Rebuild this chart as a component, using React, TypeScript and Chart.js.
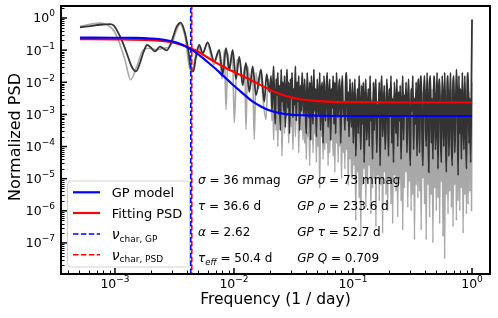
import React, { useEffect, useRef } from "react";
import { Chart, registerables } from "chart.js";

Chart.register(...registerables);

// ---------- axis ranges & ticks ----------
const X_MIN = 3.52e-4;
const X_MAX = 1.416;
const Y_MIN = 1.08e-8;
const Y_MAX = 2.36;
const X_TICK_EXPONENTS = [-3, -2, -1, 0];
const Y_TICK_EXPONENTS = [0, -1, -2, -3, -4, -5, -6, -7];
const X_TITLE = "Frequency (1 / day)";
const Y_TITLE = "Normalized PSD";

// ---------- model curves (log10 PSD) ----------
const GP_FREQ = [5.08e-4, 1.0e-3, 1.5e-3, 2.0e-3, 2.5e-3, 3.0e-3, 3.5e-3, 4.0e-3, 4.5e-3, 5.0e-3, 5.5e-3, 6.0e-3, 7.0e-3, 8.0e-3, 9.0e-3, 1.0e-2, 1.2e-2, 1.4e-2, 1.7e-2, 2.0e-2, 2.5e-2, 3.0e-2, 4.0e-2, 6.0e-2, 1.0e-1, 1.0];
const GP_LOG_PSD = [-0.61, -0.615, -0.62, -0.64, -0.67, -0.73, -0.8, -0.9, -1.01, -1.13, -1.25, -1.37, -1.58, -1.78, -1.95, -2.11, -2.36, -2.57, -2.76, -2.88, -2.97, -3.01, -3.03, -3.045, -3.05, -3.05];

const FIT_FREQ = [5.08e-4, 1.0e-3, 2.0e-3, 2.7e-3, 3.3e-3, 4.0e-3, 4.4e-3, 5.0e-3, 6.0e-3, 7.0e-3, 8.0e-3, 1.0e-2, 1.3e-2, 1.6e-2, 2.0e-2, 2.5e-2, 3.0e-2, 3.5e-2, 4.8e-2, 7.0e-2, 1.0e-1, 0.3, 1.0];
const FIT_LOG_PSD = [-0.66, -0.665, -0.69, -0.73, -0.79, -0.89, -0.96, -1.05, -1.23, -1.38, -1.5, -1.68, -1.88, -2.05, -2.23, -2.38, -2.47, -2.52, -2.58, -2.61, -2.62, -2.63, -2.63];

const NU_CHAR_GP = 4.33e-3;
const NU_CHAR_PSD = 4.42e-3;

// ---------- periodograms: low-frequency part [freq, log10 PSD] ----------
const DARK_LOW: [number, number][] = [
  [5.08e-4, -0.29], [6.2e-4, -0.25], [7.5e-4, -0.21], [9.1e-4, -0.19], [9.8e-4, -0.24],
  [1.033e-3, -0.37], [1.138e-3, -0.68], [1.254e-3, -1.09], [1.381e-3, -1.51], [1.501e-3, -1.66],
  [1.622e-3, -1.4], [1.74e-3, -1.05], [1.867e-3, -0.84], [2.0e-3, -0.92], [2.168e-3, -1.04],
  [2.388e-3, -0.89], [2.55e-3, -0.95], [2.72e-3, -1.01], [2.955e-3, -0.78], [3.3e-3, -0.27],
  [3.565e-3, -0.145], [3.875e-3, -0.47], [4.15e-3, -1.05], [4.33e-3, -1.56], [4.55e-3, -1.66],
  [4.8e-3, -1.2], [5.11e-3, -0.84], [5.46e-3, -1.09], [6.01e-3, -0.76], [6.83e-3, -1.35],
  [7.52e-3, -0.99], [8.04e-3, -1.75], [8.57e-3, -0.94], [9.13e-3, -1.6], [9.75e-3, -0.99],
  [1.039e-2, -1.9], [1.108e-2, -1.2], [1.183e-2, -2.1], [1.261e-2, -1.4], [1.345e-2, -2.3],
  [1.436e-2, -1.51], [1.531e-2, -2.4], [1.686e-2, -1.61], [1.797e-2, -2.6], [1.88e-2, -1.75],
  [1.979e-2, -2.3],
];

const LIGHT_LOW: [number, number][] = [
  [5.08e-4, -0.26], [7.48e-4, -0.16], [9.67e-4, -0.37], [1.066e-3, -0.68], [1.213e-3, -1.3],
  [1.355e-3, -1.92], [1.522e-3, -1.51], [1.729e-3, -0.99], [1.968e-3, -0.94], [2.241e-3, -0.99],
  [2.546e-3, -0.94], [2.9e-3, -0.89], [3.3e-3, -0.37], [3.517e-3, -0.19], [3.875e-3, -0.58],
  [4.21e-3, -1.51], [4.41e-3, -1.66], [5.0e-3, -0.9], [5.45e-3, -1.15], [5.95e-3, -0.8],
  [6.8e-3, -1.45], [7.45e-3, -1.05], [7.95e-3, -1.9], [8.3e-3, -1.0], [8.57e-3, -2.85],
  [8.9e-3, -1.1], [9.2e-3, -1.6], [9.7e-3, -1.05], [1.006e-2, -3.26], [1.06e-2, -1.3],
  [1.12e-2, -1.3], [1.18e-2, -2.0], [1.23e-2, -1.5], [1.261e-2, -3.47], [1.3e-2, -1.5],
  [1.38e-2, -2.1], [1.43e-2, -1.6], [1.481e-2, -3.78], [1.53e-2, -1.7], [1.6e-2, -2.2],
  [1.68e-2, -1.7], [1.75e-2, -2.5], [1.858e-2, -3.16], [1.93e-2, -1.9], [2.0e-2, -2.3],
];

// ---------- periodograms: dense high-frequency part (log10 PSD on a log-spaced grid) ----------
const DENSE_F_START = 0.0205;
const DENSE_F_END = 0.99;

const DARK_DENSE_LOG = [
  // 0.02 - 0.038
  -1.8, -2.9, -2.2, -1.5, -2.7, -3.3, -1.9, -2.4, -1.7, -3.0, -2.1, -3.5, -1.6, -2.6, -2.0, -2.9, -1.8, -3.4, -2.3, -1.6,
  -2.8, -2.0, -3.6, -1.9, -2.5, -1.7, -3.1, -2.2, -2.7, -1.5, -3.2, -2.0, -2.6, -1.8, -3.5, -2.1, -2.9, -1.7, -2.4, -3.0,
  // 0.038 - 0.096
  -1.9, -2.8, -3.6, -1.7, -2.5, -3.1, -2.0, -3.8, -1.8, -2.6, -3.3, -1.6, -2.9, -2.2, -3.7, -1.9, -2.7, -3.0, -1.7, -3.5,
  -2.3, -2.0, -3.9, -1.8, -2.6, -3.2, -2.1, -1.7, -3.4, -2.5, -1.9, -3.8, -2.2, -2.8, -1.8, -3.3, -2.0, -3.6, -1.7, -2.7,
  -3.1, -2.1, -1.9, -3.9, -2.4, -1.8, -3.0, -2.6, -3.5, -2.0, -1.7, -3.2, -2.3, -3.7, -1.9, -2.8, -3.4,
  // 0.096 - 0.35
  -2.0, -3.9, -2.6, -1.9, -4.3, -3.0, -2.2, -3.6, -1.8, -2.8, -4.1, -2.1, -3.3, -2.0, -4.5, -2.5, -1.9, -3.8, -2.9, -2.2,
  -4.0, -1.8, -3.2, -2.6, -4.4, -2.0, -3.5, -2.3, -1.9, -4.2, -2.7, -3.1, -2.0, -4.6, -2.4, -1.8, -3.7, -2.9, -2.1, -4.1,
  -3.3, -1.9, -2.6, -4.3, -2.2, -3.0, -1.8, -3.9, -2.5, -4.5, -2.0, -2.8, -3.6, -1.9, -4.0, -2.3, -3.2, -2.1, -4.4, -2.7,
  -1.8, -3.8, -2.4, -3.0, -2.0, -4.2, -2.6, -1.9, -3.5, -4.6, -2.2, -2.9, -1.8, -4.1, -2.5, -3.3, -2.0, -4.3, -2.3, -1.9,
  // 0.35 - 0.99
  -4.2, -2.1, -1.8, -3.6, -4.6, -2.4, -1.8, -3.1, -4.0, -1.7, -2.7, -4.8, -2.0, -1.8, -3.9, -2.5, -4.4, -1.8, -2.2, -4.1,
  -3.0, -1.7, -4.7, -2.3, -1.9, -3.5, -4.5, -1.8, -2.6, -4.0, -1.7, -3.3, -4.8, -2.1, -1.8, -4.3, -2.8, -1.7, -3.8, -4.6,
  -2.0, -1.8, -4.2, -3.1, -1.6, -2.4, -4.9, -1.8, -3.6, -2.2, -4.4, -1.7, -2.9, -4.1, -1.8, -3.4, -4.7, -2.0, -1.7, -3.9,
  -2.5, -4.5, -1.8,
];
const DARK_LAST: [number, number] = [1.0, -0.05];

const LIGHT_DENSE_LOG = [
  // 0.02 - 0.038
  -2.4, -3.2, -2.2, -3.8, -2.6, -2.3, -3.5, -2.1, -4.0, -2.5, -2.8, -3.3, -2.2, -4.3, -2.6, -2.4, -3.6, -2.3, -3.1, -2.7,
  -2.2, -3.9, -2.5, -2.4, -3.4, -2.1, -4.1, -2.6, -2.3, -3.7, -2.5, -3.0, -2.2, -4.2, -2.4, -2.7, -3.5, -2.3, -3.8, -2.5,
  // 0.038 - 0.096
  -3.9, -2.4, -4.4, -2.6, -3.7, -2.3, -4.6, -2.5, -3.8, -2.2, -4.2, -2.7, -3.6, -2.4, -4.5, -2.3, -4.0, -2.6, -5.3, -2.4,
  -3.7, -2.5, -4.4, -2.2, -4.1, -2.6, -3.9, -2.4, -4.6, -2.3, -4.2, -2.5, -3.8, -2.7, -4.3, -2.4, -4.8, -2.3, -3.9, -2.6,
  -4.5, -2.2, -4.0, -2.5, -5.0, -2.4, -4.2, -2.6, -4.7, -2.3, -4.1, -2.5, -5.2, -2.4, -4.4, -2.6, -4.9,
  // 0.096 - 0.35
  -5.0, -2.5, -4.6, -2.4, -6.3, -2.6, -4.8, -2.3, -5.6, -2.5, -6.8, -2.4, -5.2, -2.6, -4.7, -2.5, -5.9, -2.3, -5.1, -2.4,
  -4.6, -2.6, -6.1, -2.5, -5.3, -2.3, -5.0, -2.4, -6.5, -2.6, -4.9, -2.5, -5.7, -2.4, -5.2, -2.3, -6.7, -2.6, -4.8, -2.5,
  -5.5, -2.4, -6.0, -2.3, -5.1, -2.6, -5.8, -2.5, -6.4, -2.4, -4.9, -2.3, -5.4, -2.6, -6.2, -2.5, -5.0, -2.4, -5.7, -2.6,
  -6.6, -2.3, -5.3, -2.5, -4.8, -2.4, -5.9, -2.6, -5.1, -2.3, -6.0, -2.5, -5.5, -2.4, -6.9, -2.6, -5.2, -2.5, -5.6, -2.4,
  // 0.35 - 0.99
  -5.4, -2.4, -6.6, -2.3, -5.0, -2.5, -5.8, -2.2, -6.9, -2.4, -5.2, -2.3, -6.2, -2.5, -5.5, -2.2, -7.0, -2.4, -5.3, -2.3,
  -6.0, -2.5, -5.6, -2.2, -6.4, -2.4, -5.1, -2.3, -6.8, -2.5, -7.5, -2.2, -5.5, -2.4, -6.1, -2.3, -5.4, -2.5, -5.9, -2.2,
  -6.5, -2.4, -5.2, -2.3, -6.3, -2.5, -5.7, -2.2, -6.0, -2.4, -5.3, -2.3, -6.7, -2.5, -5.5, -2.2, -6.1, -2.4, -5.8, -2.3,
  -5.4, -2.5, -6.0,
];
const LIGHT_LAST: [number, number] = [1.0, -2.0];

// ---------- text ----------
type Seg = { t: string; it?: boolean; size?: number; dy?: number };
const STATS_LEFT: Seg[][] = [
  [{ t: "σ", it: true }, { t: " = 36" }, { t: " mmag" }],
  [{ t: "τ", it: true }, { t: " = 36.6" }, { t: " d" }],
  [{ t: "α", it: true }, { t: " = 2.62" }],
  [{ t: "τ", it: true }, { t: "eff", it: true, size: 8.5, dy: 3 }, { t: " = 50.4" }, { t: " d" }],
];
const STATS_RIGHT: Seg[][] = [
  [{ t: "GP σ", it: true }, { t: " = 73" }, { t: " mmag" }],
  [{ t: "GP ρ", it: true }, { t: " = 233.6" }, { t: " d" }],
  [{ t: "GP τ", it: true }, { t: " = 52.7" }, { t: " d" }],
  [{ t: "GP Q", it: true }, { t: " = 0.709" }],
];
const LEGEND_ITEMS: { color: string; dashed: boolean; segs: Seg[] }[] = [
  { color: "#0000ff", dashed: false, segs: [{ t: "GP model" }] },
  { color: "#ff0000", dashed: false, segs: [{ t: "Fitting PSD" }] },
  { color: "#0000ff", dashed: true, segs: [{ t: "ν", it: true, size: 14 }, { t: "char, GP", size: 9, dy: 2.5 }] },
  { color: "#ff0000", dashed: true, segs: [{ t: "ν", it: true, size: 14 }, { t: "char, PSD", size: 9, dy: 2.5 }] },
];

const FAMILY = '"DejaVu Sans", sans-serif';
const fnt = (size: number, italic = false) => `${italic ? "italic " : ""}${size}px ${FAMILY}`;

function segsWidth(ctx: CanvasRenderingContext2D, segs: Seg[], base: number) {
  let w = 0;
  for (const s of segs) {
    ctx.font = fnt(s.size ?? base, s.it);
    w += ctx.measureText(s.t).width;
  }
  return w;
}
function drawSegs(ctx: CanvasRenderingContext2D, x: number, y: number, segs: Seg[], base: number) {
  let cx = x;
  for (const s of segs) {
    ctx.font = fnt(s.size ?? base, s.it);
    ctx.fillText(s.t, cx, y + (s.dy ?? 0));
    cx += ctx.measureText(s.t).width;
  }
}
const expSegs = (e: number): Seg[] => [
  { t: "10", size: 12.5 },
  { t: e < 0 ? "\u2212" + Math.abs(e) : String(e), size: 9, dy: -6 },
];

const toPts = (freqs: number[], logs: number[]) => freqs.map((f, i) => ({ x: f, y: Math.pow(10, logs[i]) }));
const densePts = (logs: number[]) => {
  const n = logs.length;
  const r = DENSE_F_END / DENSE_F_START;
  return logs.map((v, i) => ({ x: DENSE_F_START * Math.pow(r, i / (n - 1)), y: Math.pow(10, v) }));
};
const pairPts = (pairs: [number, number][]) => pairs.map(([f, v]) => ({ x: f, y: Math.pow(10, v) }));

const decorPlugin = {
  id: "decor",
  afterDraw(chart: any) {
    const ctx: CanvasRenderingContext2D = chart.ctx;
    const { left, right, top, bottom } = chart.chartArea;
    const xs = chart.scales.x;
    const ys = chart.scales.y;
    ctx.save();
    ctx.fillStyle = "#000";
    ctx.strokeStyle = "#000";

    // minor ticks
    ctx.lineWidth = 1;
    for (let k = -4; k <= 0; k++) {
      for (let m = 2; m <= 9; m++) {
        const v = m * Math.pow(10, k);
        if (v < X_MIN || v > X_MAX) continue;
        const px = Math.round(xs.getPixelForValue(v)) + 0.5;
        ctx.beginPath(); ctx.moveTo(px, bottom); ctx.lineTo(px, bottom - 3.5); ctx.stroke();
      }
    }
    for (let k = -9; k <= 0; k++) {
      for (let m = 2; m <= 9; m++) {
        const v = m * Math.pow(10, k);
        if (v < Y_MIN || v > Y_MAX) continue;
        const py = Math.round(ys.getPixelForValue(v)) + 0.5;
        ctx.beginPath(); ctx.moveTo(left, py); ctx.lineTo(left + 3.5, py); ctx.stroke();
      }
    }
    // major ticks + labels
    ctx.lineWidth = 1.5;
    for (const e of X_TICK_EXPONENTS) {
      const px = xs.getPixelForValue(Math.pow(10, e));
      ctx.beginPath(); ctx.moveTo(px, bottom); ctx.lineTo(px, bottom - 6); ctx.stroke();
      const segs = expSegs(e);
      const w = segsWidth(ctx, segs, 12.5);
      drawSegs(ctx, px - w / 2, bottom + 13.5, segs, 12.5);
    }
    for (const e of Y_TICK_EXPONENTS) {
      const py = ys.getPixelForValue(Math.pow(10, e));
      ctx.beginPath(); ctx.moveTo(left, py); ctx.lineTo(left + 6, py); ctx.stroke();
      const segs = expSegs(e);
      const w = segsWidth(ctx, segs, 12.5);
      drawSegs(ctx, left - 6 - w, py + 4.5, segs, 12.5);
    }
    // frame
    ctx.lineWidth = 2;
    ctx.strokeRect(left, top, right - left, bottom - top);

    // axis titles
    ctx.font = fnt(15.5);
    ctx.textAlign = "center";
    ctx.fillText(X_TITLE, (left + right) / 2, 304);
    ctx.save();
    ctx.translate(20, (top + bottom) / 2 - 3);
    ctx.rotate(-Math.PI / 2);
    ctx.font = fnt(16);
    ctx.fillText(Y_TITLE, 0, 0);
    ctx.restore();
    ctx.textAlign = "left";

    // statistics text
    const rowsY = [183.8, 209.5, 236.3, 262.3];
    STATS_LEFT.forEach((segs, i) => drawSegs(ctx, 198, rowsY[i], segs, 12));
    STATS_RIGHT.forEach((segs, i) => drawSegs(ctx, 297.3, rowsY[i], segs, 12));

    // legend
    const bx = 67.5, by = 181, bw = 122, bh = 86;
    ctx.beginPath();
    ctx.roundRect(bx, by, bw, bh, 3);
    ctx.fillStyle = "rgba(255,255,255,0.8)";
    ctx.fill();
    ctx.strokeStyle = "#d3d3d3";
    ctx.lineWidth = 1;
    ctx.stroke();
    const legRows = [192.3, 213, 234, 254.7];
    LEGEND_ITEMS.forEach((it, i) => {
      const y = legRows[i];
      ctx.strokeStyle = it.color;
      ctx.lineWidth = it.dashed ? 1.6 : 2.2;
      ctx.setLineDash(it.dashed ? [5.5, 2.4] : []);
      ctx.beginPath(); ctx.moveTo(73, y); ctx.lineTo(100, y); ctx.stroke();
      ctx.setLineDash([]);
      ctx.fillStyle = "#000";
      drawSegs(ctx, 111.7, y + 5, it.segs, 13);
    });
    ctx.restore();
  },
};

export default function App() {
  const ref = useRef<HTMLCanvasElement | null>(null);
  useEffect(() => {
    document.body.style.margin = "0";
    const canvas = ref.current!;
    const darkData = [...pairPts(DARK_LOW), ...densePts(DARK_DENSE_LOG), { x: DARK_LAST[0], y: Math.pow(10, DARK_LAST[1]) }];
    const lightData = [...pairPts(LIGHT_LOW), ...densePts(LIGHT_DENSE_LOG), { x: LIGHT_LAST[0], y: Math.pow(10, LIGHT_LAST[1]) }];
    const common = { pointRadius: 0, pointHoverRadius: 0, fill: false };
    const chart = new Chart(canvas, {
      type: "line",
      data: {
        datasets: [
          { ...common, label: "GP model", data: toPts(GP_FREQ, GP_LOG_PSD), borderColor: "#0000ff", borderWidth: 2.2, cubicInterpolationMode: "monotone", order: 0 },
          { ...common, label: "Fitting PSD", data: toPts(FIT_FREQ, FIT_LOG_PSD), borderColor: "#ff0000", borderWidth: 2.2, cubicInterpolationMode: "monotone", order: 1 },
          { ...common, label: "nu GP", data: [{ x: NU_CHAR_GP, y: Y_MIN }, { x: NU_CHAR_GP, y: Y_MAX }], borderColor: "#0000ff", borderWidth: 1.6, borderDash: [5.5, 2.4], order: 2 },
          { ...common, label: "nu PSD", data: [{ x: NU_CHAR_PSD, y: Y_MIN }, { x: NU_CHAR_PSD, y: Y_MAX }], borderColor: "#ff0000", borderWidth: 1.6, borderDash: [5.5, 2.4], borderDashOffset: 4, order: 3 },
          { ...common, label: "periodogram", data: darkData, borderColor: "#333333", borderWidth: 1.8, cubicInterpolationMode: "monotone", order: 4 },
          { ...common, label: "periodogram 2", data: lightData, borderColor: "#a8a8a8", borderWidth: 1.6, cubicInterpolationMode: "monotone", order: 5 },
        ],
      },
      options: {
        animation: false,
        responsive: false,
        devicePixelRatio: 1,
        layout: { padding: { left: 61, right: 8, top: 6, bottom: 44 } },
        scales: {
          x: { type: "logarithmic", min: X_MIN, max: X_MAX, display: false },
          y: { type: "logarithmic", min: Y_MIN, max: Y_MAX, display: false },
        },
        plugins: { legend: { display: false }, tooltip: { enabled: false } },
        events: [],
      },
      plugins: [decorPlugin],
    } as any);
    return () => chart.destroy();
  }, []);
  return (
    <div style={{ position: "absolute", left: 0, top: 0, width: 498, height: 318, background: "#fff" }}>
      <canvas ref={ref} width={498} height={318} style={{ display: "block", width: 498, height: 318 }} />
    </div>
  );
}
